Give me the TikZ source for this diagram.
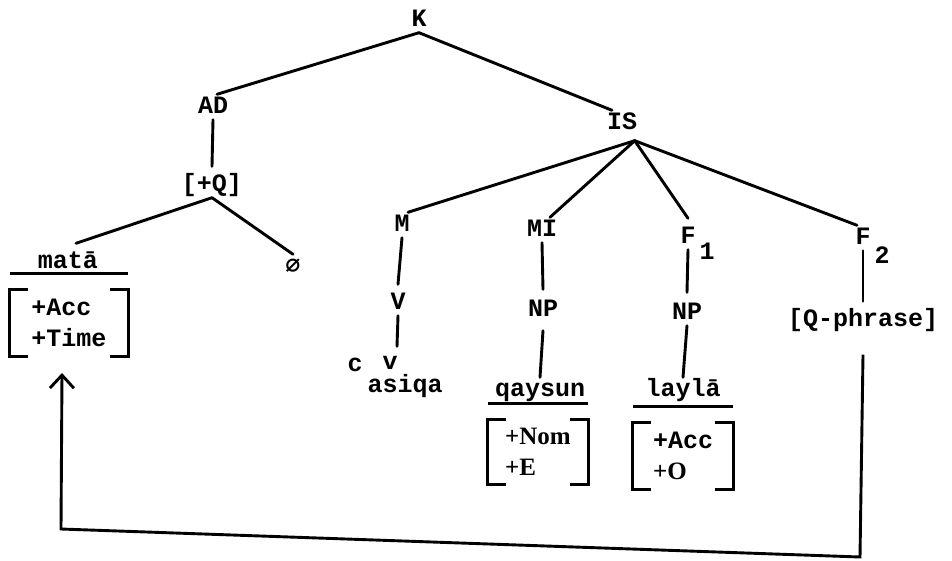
\documentclass[tikz,border=0pt]{standalone}
\usepackage{fontspec}
\setmainfont{Liberation Mono}
\newfontfamily\serifb{Liberation Serif}
\newfontfamily\djv{DejaVu Sans Mono}
\usetikzlibrary{arrows.meta}
\newcommand\featbrackets[1]{%
  \draw[brk] ([xshift=18pt]#1.north west) -- (#1.north west) -- (#1.south west) -- ([xshift=18pt]#1.south west);
  \draw[brk] ([xshift=-18pt]#1.north east) -- (#1.north east) -- (#1.south east) -- ([xshift=-18pt]#1.south east);
  \draw[brk] ([yshift=16pt]#1.north west) -- ([yshift=16pt]#1.north east);}
\begin{document}
\begin{tikzpicture}[x=1pt,y=-1pt,
  lbl/.style={inner sep=1.5pt, font=\fontsize{25}{30}\selectfont\bfseries, text height=17pt, text depth=5pt},
  diacr/.style={inner sep=0pt, font=\fontsize{25}{30}\selectfont\bfseries, text height=13pt, text depth=0pt},
  feat/.style={inner sep=0pt, align=left, font=\fontsize{25}{31}\selectfont\bfseries},
  brk/.style={line width=2.8pt},
  tline/.style={line width=2.9pt, line cap=round}]
\useasboundingbox (0,0) rectangle (952,560);

% labels
\node[lbl] (K) at (419,20) {K};
\node[lbl] (AD) at (213,107) {AD};
\node[lbl] (IS) at (622,123) {IS};
\node[lbl] (Qp) at (212,185) {[+Q]};
\node[lbl] (mata) at (68,262) {matā};
\node[lbl] (empty) at (293,267) {\djv ∅};
\node[lbl] (M) at (402,225) {M};
\node[lbl] (MI) at (542,230) {MI};
\node[lbl] (F1) at (688,237) {F};
\node[lbl] (F1sub) at (707,253) {1};
\node[lbl] (F2) at (863,238) {F};
\node[lbl] (F2sub) at (882,257) {2};
\node[lbl] (V) at (398,303) {V};
\node[lbl] (NPa) at (543,310) {NP};
\node[lbl] (NPb) at (687,313) {NP};
\node[lbl] (Qphrase) at (863,320) {[Q-phrase]};
\node[lbl, inner sep=0pt, text height=14pt] (casiqa) at (405,388) {asiqa};
\node[diacr] (cmark) at (355,365) {c};
\node[diacr] (vmark) at (390,363) {v};
\node[lbl] (qaysun) at (540,390) {qaysun};
\node[lbl] (layla) at (683,390) {laylā};

% feature matrices
\node[feat, minimum width=118pt, minimum height=66pt] (fmata) at (69,323) {+Acc\\+Time};
\node[feat, minimum width=100pt, minimum height=65pt] (fqaysun) at (538,452) {{\serifb +Nom}\\{\serifb +E}};
\node[feat, minimum width=100pt, minimum height=67pt] (flayla) at (683,456) {+Acc\\{\serifb +O}};
\featbrackets{fmata}
\featbrackets{fqaysun}
\featbrackets{flayla}

% tree connectors
\coordinate (ISfoot) at ([xshift=-4pt,yshift=-5pt]IS.south east);
\draw[tline] (K.south) -- ([xshift=4pt]AD.north);
\draw[tline] (K.south) -- ([xshift=-10pt]IS.north);
\draw[tline] (AD.south) -- ([yshift=6pt]Qp.north);
\draw[tline] (Qp.south) -- ([xshift=8pt,yshift=6pt]mata.north);
\draw[tline] (Qp.south) -- (empty.north);
\draw[tline] (ISfoot) -- ([xshift=6pt]M.north);
\draw[tline] (ISfoot) -- ([xshift=8pt]MI.north);
\draw[tline] (ISfoot) -- ([yshift=6pt]F1.north);
\draw[tline] (ISfoot) -- ([xshift=-6pt]F2.north);
\draw[tline] (M.south) -- ([yshift=6pt]V.north);
\draw[tline] (V.south) -- ([xshift=7pt,yshift=10pt]vmark.north);
\draw[tline] (MI.south) -- ([yshift=8pt]NPa.north);
\draw[tline] ([yshift=-8pt]NPa.south) -- (qaysun.north);
\draw[tline] (F1.south) -- ([yshift=8pt]NPb.north);
\draw[tline] (NPb.south) -- (layla.north);
\draw[tline] (F2.south) -- ([yshift=6pt]Qphrase.north);

% movement arrow
\coordinate (cR) at (860,557);
\coordinate (cL) at (61,529);
\coordinate (tip) at (62,373);
\draw[tline, line cap=butt, -{Straight Barb[length=13pt,width=24pt]}]
  ([yshift=-22pt]Qphrase.south) -- (cR) -- (cL) -- (tip);
\end{tikzpicture}
\end{document}
